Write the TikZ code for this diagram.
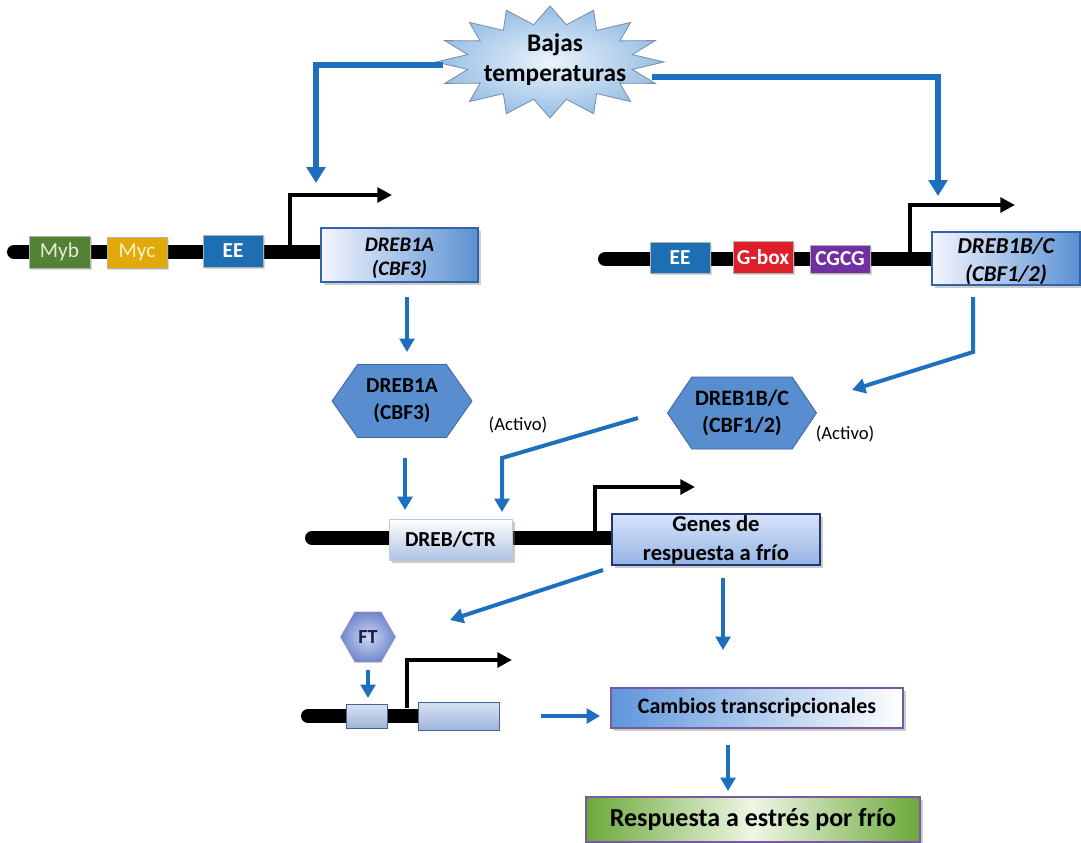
\documentclass[tikz,border=0pt]{standalone}
\usepackage{fontspec}
\setmainfont{Carlito}
\usetikzlibrary{shapes.symbols,arrows.meta,shadows}
\definecolor{arrblue}{RGB}{30,112,190}
\definecolor{mybg}{RGB}{84,130,53}
\definecolor{mycg}{RGB}{225,170,10}
\definecolor{eeb}{RGB}{30,110,180}
\definecolor{gboxr}{RGB}{222,30,40}
\definecolor{cgcgp}{RGB}{112,48,160}
\definecolor{boxbl}{RGB}{90,145,210}
\definecolor{boxbord}{RGB}{50,100,170}
\definecolor{hexfill}{RGB}{88,142,208}
\definecolor{hexbord}{RGB}{60,100,160}
\definecolor{purpbord}{RGB}{120,90,160}
\definecolor{grn}{RGB}{108,168,58}
\tikzset{
  sz/.style 2 args={minimum width=#1*0.75pt, minimum height=#2*0.75pt},
  base/.style={inner sep=0pt, align=center, font=\bfseries\fontsize{16}{20}\selectfont},
  gene/.style={line width=10.5pt, black, line cap=round},
  prom/.style={line width=3pt, black, -{Triangle[length=11pt,width=11pt]}},
  arr/.style={line width=3pt, arrblue, -{Triangle[length=10pt,width=11pt]}},
  bigarr/.style={line width=4.5pt, arrblue, -{Triangle[length=12pt,width=14pt]}},
  elem/.style={base, draw=white!70!black, line width=0.4pt, text=white,
     drop shadow={shadow xshift=1.5pt, shadow yshift=-1.5pt, opacity=0.3}},
  genebox/.style={base, draw=boxbord, line width=0.8pt, left color=blue!4, right color=boxbl},
  genetext/.style={base, font=\bfseries\itshape\fontsize{16}{20}\selectfont},
  hexa/.style={base, signal, signal to=west and east, fill=hexfill, draw=hexbord, line width=0.6pt},
  shbox/.style={drop shadow={shadow xshift=2pt, shadow yshift=-2pt, opacity=0.4}},
}
\begin{document}
\begin{tikzpicture}[x=0.75pt,y=-0.75pt]
\useasboundingbox (0,0) rectangle (1081,842);

% star
\draw[line width=0.6pt, draw={rgb,255:red,120;green,140;blue,165}, inner color={rgb,255:red,235;green,243;blue,252}, outer color={rgb,255:red,150;green,190;blue,228}]
  plot[samples=33, domain=0:32, variable=\k]
  ({550+cos(90+\k*11.25)*(mod(\k,2)==0 ? 114 : 84)}, {62-sin(90+\k*11.25)*(mod(\k,2)==0 ? 56 : 38)}) -- cycle;
\node[base, font=\bfseries\fontsize{19}{22.5}\selectfont] (bt) at (555,60) {Bajas\\temperaturas};
\coordinate (stl) at (443,65);
\coordinate (str) at (652,77);
\coordinate (la) at (316,183);
\coordinate (ra) at (938,196);
\draw[bigarr] (stl) -| (la);
\draw[bigarr] (str) -| (ra);

% gene 1
\coordinate (g1s) at (14,252);
\coordinate (g1e) at (330,252);
\draw[gene] (g1s) -- (g1e);
\node[elem, sz={61}{32}, fill=mybg, text={rgb,255:red,225;green,235;blue,215}, font=\fontsize{16}{20}\selectfont] (myb) at (59.5,252) {Myb};
\node[elem, sz={60}{31}, fill=mycg, text={rgb,255:red,255;green,242;blue,205}, font=\fontsize{16}{20}\selectfont] (myc) at (137,252.5) {Myc};
\node[elem, sz={60}{32}, fill=eeb] (ee1) at (233,251) {EE};
\coordinate (p1) at (290,248);
\coordinate (p1e) at (392,195);
\draw[prom] (p1) |- (p1e);
\node[genebox, sz={157}{54}, shbox] (d1a) at (399.5,255) {};
\node[genetext, font=\bfseries\itshape\fontsize{15.5}{18}\selectfont] (d1at) at (399.5,258) {DREB1A\\(CBF3)};

% gene 2
\coordinate (g2s) at (605,259);
\coordinate (g2e) at (935,259);
\draw[gene] (g2s) -- (g2e);
\node[elem, sz={60}{31}, fill=eeb] (ee2) at (680,257.5) {EE};
\node[elem, sz={60}{32}, fill=gboxr] (gb) at (763,257) {G-box};
\node[elem, sz={60}{28}, fill=cgcgp] (cg) at (840,259) {CGCG};
\coordinate (p2) at (910,252);
\coordinate (p2e) at (1015,205);
\draw[prom] (p2) |- (p2e);
\node[genebox, sz={148}{53}, shbox] (d1b) at (1006,258.5) {};
\node[genetext, font=\bfseries\itshape\fontsize{17}{21}\selectfont] (d1bt) at (1006,261) {DREB1B/C\\(CBF1/2)};

% proteins
\coordinate (a1s) at (407,297);
\coordinate (a1e) at (407,352);
\draw[arr] (a1s) -- (a1e);
\node[hexa, sz={140}{73}, signal pointer angle=110, font=\bfseries\fontsize{16}{20}\selectfont] (h1) at (402,401) {DREB1A\\(CBF3)};
\node[inner sep=0pt, font=\fontsize{14}{16}\selectfont] (act1) at (518,425) {(Activo)};

\coordinate (b1) at (973,297);
\coordinate (b2) at (973,352);
\coordinate (b3) at (852,390);
\draw[arr] (b1) -- (b2) -- (b3);
\node[hexa, sz={149}{72}, signal pointer angle=112, font=\bfseries\fontsize{16.5}{20}\selectfont] (h2) at (742,413) {DREB1B/C\\(CBF1/2)};
\node[inner sep=0pt, font=\fontsize{14}{16}\selectfont] (act2) at (845,434) {(Activo)};

\coordinate (c1) at (638,418);
\coordinate (c2) at (502,458);
\coordinate (c3) at (502,512);
\draw[arr] (c1) -- (c2) -- (c3);
\coordinate (d1) at (405,458);
\coordinate (d2) at (405,510);
\draw[arr] (d1) -- (d2);

% gene 3
\coordinate (g3s) at (312,538);
\coordinate (g3e) at (615,538);
\draw[gene] (g3s) -- (g3e);
\node[base, sz={123}{41}, draw={rgb,255:red,190;green,200;blue,215}, line width=0.4pt, top color=white, bottom color={rgb,255:red,175;green,195;blue,228}, shbox] (ctr) at (450.5,539.5) {DREB/CTR};
\coordinate (p3) at (595,531);
\coordinate (p3e) at (695,487);
\draw[prom] (p3) |- (p3e);
\node[base, sz={208}{51}, draw={rgb,255:red,35;green,55;blue,115}, line width=0.8pt, top color={rgb,255:red,215;green,228;blue,248}, bottom color={rgb,255:red,150;green,180;blue,230}, shbox, font=\bfseries\fontsize{17}{22}\selectfont] (gr) at (716,539.5) {Genes de\\respuesta a frío};

\coordinate (e1) at (603,570);
\coordinate (e2) at (450,620);
\draw[arr] (e1) -- (e2);
\coordinate (f1) at (723,578);
\coordinate (f2) at (723,650);
\draw[arr] (f1) -- (f2);

% FT
\node[base, signal, signal to=west and east, signal pointer angle=120, sz={55}{50}, draw={rgb,255:red,140;green,150;blue,200}, line width=0.4pt, inner color={rgb,255:red,205;green,215;blue,245}, outer color={rgb,255:red,115;green,135;blue,205}, font=\bfseries\fontsize{15}{18}\selectfont, text={rgb,255:red,25;green,30;blue,65}] (ft) at (368,637) {FT};
\coordinate (h1s) at (368,670);
\coordinate (h1e) at (368,698);
\draw[arr] (h1s) -- (h1e);

% gene 4
\coordinate (g4s) at (308,716);
\coordinate (g4e) at (425,716);
\draw[gene] (g4s) -- (g4e);
\node[sz={41}{24}, draw={rgb,255:red,70;green,100;blue,140}, line width=0.6pt, top color={rgb,255:red,215;green,225;blue,242}, bottom color={rgb,255:red,160;green,180;blue,218}, inner sep=0pt] (sb) at (366.5,716) {};
\coordinate (p4) at (407,708);
\coordinate (p4e) at (512,660);
\draw[prom] (p4) |- (p4e);
\node[sz={81}{28}, draw={rgb,255:red,70;green,100;blue,140}, line width=0.6pt, top color={rgb,255:red,215;green,225;blue,242}, bottom color={rgb,255:red,160;green,180;blue,218}, inner sep=0pt] (lb) at (458.5,716) {};

\coordinate (i1) at (541,716);
\coordinate (i2) at (600,716);
\draw[arr] (i1) -- (i2);
\node[base, sz={292}{40}, draw=purpbord, line width=0.8pt, left color={rgb,255:red,95;green,150;blue,220}, right color=white, shbox, font=\bfseries\fontsize{16.5}{20}\selectfont] (cb) at (757,708) {Cambios transcripcionales};
\coordinate (j1) at (728,745);
\coordinate (j2) at (728,791);
\draw[arr] (j1) -- (j2);
\node[base, sz={334}{45}, draw=purpbord, line width=0.8pt, left color=grn, right color=grn, middle color={rgb,255:red,238;green,246;blue,228}, shbox, font=\bfseries\fontsize{19.5}{22}\selectfont] (rp) at (753,819.5) {Respuesta a estrés por frío};
\end{tikzpicture}
\end{document}
